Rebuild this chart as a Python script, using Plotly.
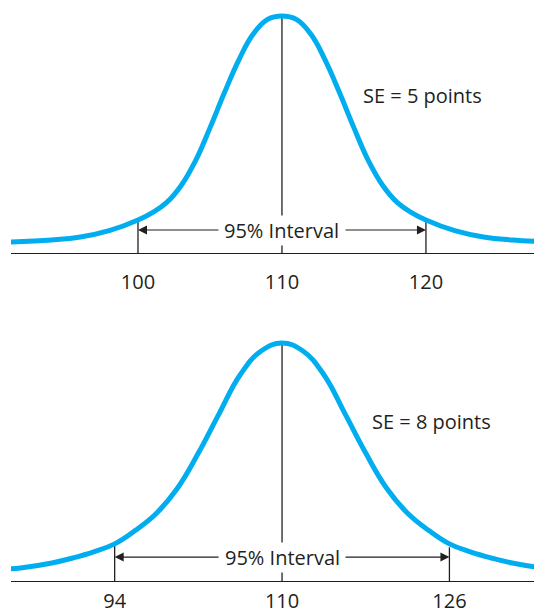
import plotly.graph_objects as go

# ---------------- data ----------------
# top panel: SE = 5 points (relative curve height, 1 = peak)
top_x = [91, 94, 96, 98, 100, 101, 102, 103, 104, 105, 106, 107, 108, 109, 110,
         111, 112, 113, 114, 115, 116, 117, 118, 119, 120, 122, 124, 126, 129]
top_y = [0.0, 0.009, 0.022, 0.05, 0.097, 0.13, 0.175, 0.25, 0.36, 0.505, 0.66, 0.805, 0.92, 0.985, 1.0,
         0.985, 0.92, 0.805, 0.66, 0.505, 0.36, 0.25, 0.175, 0.13, 0.097, 0.05, 0.022, 0.009, 0.0]
top_ticks = [100, 110, 120]
top_interval = [100, 120]
top_interval_h = [0.105, 0.105]
top_label = "SE = 5 points"

# bottom panel: SE = 8 points
bot_x = [84, 85, 88, 90, 92, 94, 96, 98, 100, 102, 104, 106, 108, 110,
         112, 114, 116, 118, 120, 122, 124, 126, 128, 130, 132, 135, 136]
bot_y = [0.005, 0.009, 0.031, 0.053, 0.08, 0.115, 0.175, 0.25, 0.36, 0.515, 0.69, 0.86, 0.965, 1.0,
         0.965, 0.86, 0.69, 0.515, 0.36, 0.25, 0.175, 0.115, 0.08, 0.053, 0.031, 0.009, 0.005]
bot_ticks = [94, 110, 126]
bot_interval = [94, 126]
bot_interval_h = [0.11, 0.10]
bot_label = "SE = 8 points"

center = 110
interval_text = "95% Interval"

# ---------------- styling ----------------
CURVE = "#00AEEF"
INK = "#231F20"
FONT = "Open Sans"

# the page body adds an 8px margin, so the figure is 8px smaller each way
W, H = 534, 608
ML = 3

fig = go.Figure()
fig.add_trace(go.Scatter(x=top_x, y=top_y, mode="lines",
                         line=dict(color=CURVE, width=5, shape="spline", smoothing=1.2),
                         xaxis="x", yaxis="y", hoverinfo="skip", showlegend=False))
fig.add_trace(go.Scatter(x=bot_x, y=bot_y, mode="lines",
                         line=dict(color=CURVE, width=5, shape="spline", smoothing=1.2),
                         xaxis="x2", yaxis="y2", hoverinfo="skip", showlegend=False))

top_yr = [-0.0487, -0.0487 + 245 / 226]
bot_yr = [-0.0485, 1.044]
panels = [
    ("", [91.18, 128.06], top_yr, top_interval, top_interval_h, top_label, (119.76, 0.65), 0.053, 14.4),
    ("2", [84.09, 134.85], bot_yr, bot_interval, bot_interval_h, bot_label, (124.25, 0.652), 0.057, 10.46),
]

shapes = []
annotations = []
for ref, xr, yr, interval, ih, label, lpos, ty, pxu in panels:
    xref, yref = "x" + ref, "y" + ref
    floor = yr[0]
    shapes.append(dict(type="line", xref=xref, yref=yref, x0=center, x1=center, y0=floor, y1=1.0,
                       line=dict(color=INK, width=1.3), layer="below"))
    for xv, hv in zip(interval, ih):
        shapes.append(dict(type="line", xref=xref, yref=yref, x0=xv, x1=xv, y0=floor, y1=hv,
                           line=dict(color=INK, width=1.3), layer="below"))
    annotations.append(dict(xref=xref, yref=yref, x=center, y=ty, text=interval_text, showarrow=False,
                            font=dict(family=FONT, size=20, color=INK), bgcolor="white"))
    half = 62 / pxu
    for tip, start in ((interval[0], center - half), (interval[1], center + half)):
        annotations.append(dict(xref=xref, yref=yref, x=tip, y=ty, ax=start, ay=ty,
                                axref=xref, ayref=yref, text="", showarrow=True, arrowhead=2,
                                arrowsize=1.5, arrowwidth=1.2, arrowcolor=INK,
                                standoff=0, startstandoff=0))
    annotations.append(dict(xref=xref, yref=yref, x=lpos[0], y=lpos[1], text=label, showarrow=False,
                            font=dict(family=FONT, size=20, color=INK)))

xaxis_common = dict(showgrid=False, zeroline=False, showline=True, linecolor=INK, linewidth=1.3,
                    ticks="", tickfont=dict(family=FONT, size=20, color=INK), automargin=False,
                    fixedrange=True)
yaxis_common = dict(visible=False, showgrid=False, zeroline=False, fixedrange=True)

fig.update_layout(
    width=W, height=H,
    margin=dict(l=ML, r=0, t=0, b=0),
    paper_bgcolor="white", plot_bgcolor="white",
    showlegend=False,
    xaxis=dict(**xaxis_common, domain=[0, 1], anchor="y", range=panels[0][1],
               tickvals=top_ticks, ticktext=[str(t) for t in top_ticks], ticklabelstandoff=11),
    yaxis=dict(**yaxis_common, domain=[1 - 245 / H, 1], range=top_yr, anchor="x"),
    xaxis2=dict(**xaxis_common, domain=[0, 1], anchor="y2", range=panels[1][1],
                tickvals=bot_ticks, ticktext=[str(t) for t in bot_ticks], ticklabelstandoff=2),
    yaxis2=dict(**yaxis_common, domain=[1 - 573 / H, 1 - 325 / H], range=bot_yr, anchor="x2"),
    shapes=shapes,
    annotations=annotations,
)

fig.write_html("out.html", config={"displayModeBar": False, "staticPlot": True})
